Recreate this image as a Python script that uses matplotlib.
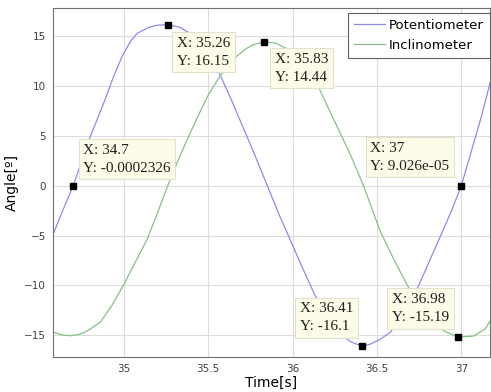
import numpy as np
import matplotlib
matplotlib.use('Agg')
from matplotlib import pyplot as plt

# Potentiometer (blue)
t_pot = [34.58, 34.64, 34.70, 34.75, 34.80, 34.85, 34.89, 34.94, 34.99, 35.04,
         35.08, 35.15, 35.20, 35.26, 35.33, 35.40, 35.47, 35.52, 35.57, 35.64,
         35.71, 35.78, 35.85, 35.92, 35.99, 36.06, 36.13, 36.20, 36.27, 36.35,
         36.41, 36.46, 36.52, 36.58, 36.66, 36.745, 36.81, 36.87, 36.94, 37.00,
         37.06, 37.12, 37.17]
v_pot = [-4.9, -2.4, 0.0, 2.5, 4.9, 7.0, 8.7, 11.0, 13.0, 14.5,
         15.3, 15.9, 16.1, 16.15, 15.9, 15.2, 14.0, 12.8, 11.1, 8.5,
         5.7, 2.9, 0.0, -2.9, -5.6, -8.3, -10.9, -13.2, -14.8, -15.7,
         -16.1, -15.9, -15.4, -14.7, -12.8, -10.1, -7.6, -5.3, -2.6, 0.0,
         3.5, 7.0, 10.3]

# Inclinometer (green)
t_inc = [34.58, 34.64, 34.69, 34.74, 34.78, 34.86, 34.93, 35.00, 35.07, 35.14,
         35.20, 35.26, 35.32, 35.38, 35.44, 35.50, 35.57, 35.62, 35.67, 35.72,
         35.76, 35.83, 35.90, 35.97, 36.05, 36.14, 36.20, 36.27, 36.34, 36.42,
         36.52, 36.60, 36.68, 36.75, 36.83, 36.90, 36.98, 37.07, 37.14, 37.17]
v_inc = [-14.7, -15.0, -15.05, -14.9, -14.6, -13.7, -12.0, -9.9, -7.6, -5.3,
         -2.7, 0.0, 2.5, 4.8, 7.0, 9.1, 11.0, 12.0, 13.0, 13.7,
         14.1, 14.44, 14.3, 13.7, 12.4, 10.4, 8.2, 5.7, 3.2, 0.0,
         -4.6, -7.4, -10.0, -12.0, -13.6, -14.6, -15.19, -15.1, -14.4, -13.6]

# data tips: x, y, label text
tips_x = [34.7, 35.26, 35.83, 37.0, 36.41, 36.98]
tips_y = [-0.0002326, 16.15, 14.44, 9.026e-05, -16.1, -15.19]
tips_txt = ['X: 34.7\nY: -0.0002326', 'X: 35.26\nY: 16.15', 'X: 35.83\nY: 14.44',
            'X: 37\nY: 9.026e-05', 'X: 36.41\nY: -16.1', 'X: 36.98\nY: -15.19']
# offset of the text (pixels) from the marker
tips_off = [(10, 42), (9, -12), (11, -11), (-91, 44), (-62, 44), (-66, 44)]

xticks = [35, 35.5, 36, 36.5, 37]
yticks = [-15, -10, -5, 0, 5, 10, 15]

fig = plt.figure(figsize=(4.91, 3.92), dpi=100)
ax = fig.add_axes([0.108, 0.089, 0.890, 0.890])

ax.plot(t_pot, v_pot, color='#8a8af2', lw=0.9, label='Potentiometer', zorder=2)
ax.plot(t_inc, v_inc, color='#86c086', lw=0.9, label='Inclinometer', zorder=2)

ax.set_xlim(34.58, 37.17)
ax.set_ylim(-17.2, 17.8)
ax.set_xticks(xticks)
ax.set_xticklabels(['35', '35.5', '36', '36.5', '37'])
ax.set_yticks(yticks)
ax.tick_params(labelsize=7.5, colors='#404040', length=0, pad=5)
ax.grid(True, color='#dcdcdc', lw=0.8)
for s in ax.spines.values():
    s.set_color('#707070')
    s.set_linewidth(0.8)

ax.set_xlabel('Time[s]', fontsize=10, labelpad=1)
ax.set_ylabel('Angle[º]', fontsize=10, labelpad=4)

leg = ax.legend(loc='upper right', bbox_to_anchor=(1.0, 0.986), borderaxespad=0,
                fontsize=9.5, fancybox=False, edgecolor='#606060', framealpha=1,
                handlelength=2.4, borderpad=0.45, labelspacing=0.5, handletextpad=0.3)
leg.get_frame().set_linewidth(0.8)

for x, y, txt, off in zip(tips_x, tips_y, tips_txt, tips_off):
    ax.plot(x, y, 's', color='black', ms=4.5, zorder=5)
    ax.annotate(txt, xy=(x, y), xytext=off, textcoords='offset pixels',
                ha='left', va='top', fontsize=11, family='Liberation Serif',
                color='#202020', linespacing=1.5, zorder=4,
                bbox=dict(boxstyle='square,pad=0.3', fc='#fcfce8', ec='#e2e2cc', lw=0.8))

plt.savefig('out.png', dpi=100)
